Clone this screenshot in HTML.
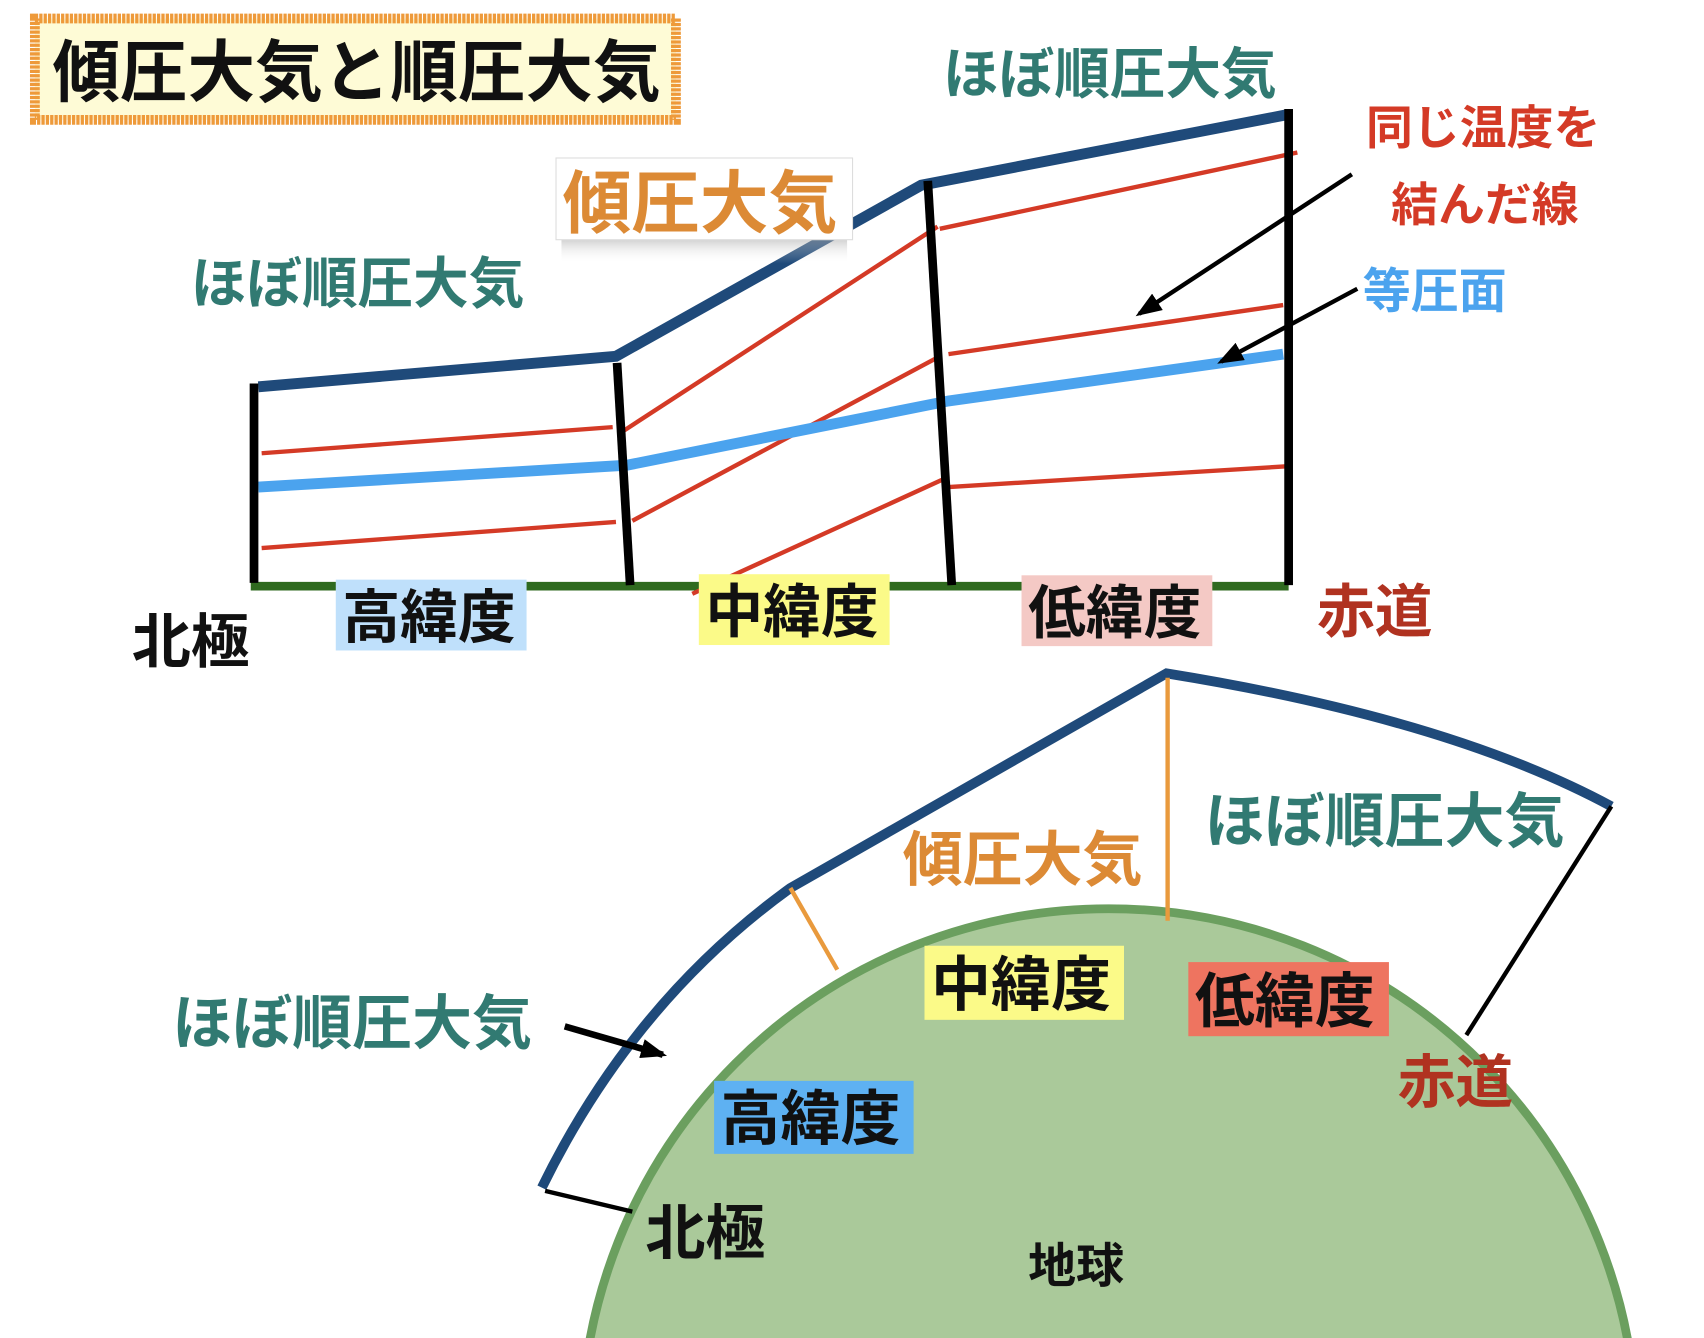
<!DOCTYPE html>
<html><head><meta charset="utf-8"><style>
html,body{margin:0;padding:0;background:#fff;overflow:hidden;width:1704px;height:1338px;}
svg{display:block}
text{font-family:"Liberation Sans","Noto Sans CJK JP",sans-serif;font-weight:bold;}
</style></head><body>
<svg width="1704" height="1338" viewBox="0 0 1563 1228" preserveAspectRatio="none" xmlns="http://www.w3.org/2000/svg">
<defs>
<marker id="ah" markerWidth="24" markerHeight="18" refX="20" refY="9" orient="auto" markerUnits="userSpaceOnUse">
<path d="M0,0 L24,9 L0,18 z" fill="#000"/></marker>
<linearGradient id="sh" x1="0" y1="0" x2="0" y2="1"><stop offset="0" stop-color="#888" stop-opacity="0.7"/><stop offset="1" stop-color="#fff" stop-opacity="0"/></linearGradient>
</defs>
<rect x="32" y="17" width="588" height="93" fill="#fefbd6" stroke="#ee9a3a" stroke-width="9" stroke-dasharray="3 1"/>
<text x="48" y="88" font-size="62" fill="#111">傾圧大気と順圧大気</text>

<line x1="230" y1="538" x2="1182" y2="538" stroke="#2f6a1f" stroke-width="8"/>
<g stroke="#d43a26" stroke-width="4">
<line x1="240" y1="416" x2="562" y2="392"/>
<line x1="240" y1="503" x2="565" y2="479"/>
<line x1="568" y1="398" x2="860" y2="208"/>
<line x1="580" y1="478" x2="862" y2="327"/>
<line x1="635" y1="545" x2="865" y2="440"/>
<line x1="862" y1="210" x2="1190" y2="140"/>
<line x1="870" y1="325" x2="1177" y2="280"/>
<line x1="870" y1="447" x2="1180" y2="428"/>
</g>
<polyline points="237,447 575,427 870,368 1177,325" fill="none" stroke="#4ba3ee" stroke-width="10"/>
<polyline points="237,355 565,327 845,170 1182,105" fill="none" stroke="#1f4a7a" stroke-width="10"/>
<g stroke="#000" stroke-width="8">
<line x1="233" y1="352" x2="233" y2="535"/>
<line x1="566" y1="333" x2="578" y2="537"/>
<line x1="851" y1="166" x2="873" y2="537"/>
<line x1="1182" y1="100" x2="1182" y2="537"/>
</g>
<line x1="1240" y1="160" x2="1045" y2="288" stroke="#000" stroke-width="4" marker-end="url(#ah)"/>
<line x1="1245" y1="265" x2="1120" y2="332" stroke="#000" stroke-width="4" marker-end="url(#ah)"/>

<rect x="515" y="212" width="262" height="30" fill="url(#sh)"/>
<rect x="510" y="145" width="272" height="75" fill="#fff" stroke="#ddd" stroke-width="1"/>
<text x="516" y="209" font-size="63" fill="#dc8a35">傾圧大気</text>
<text x="865" y="86" font-size="51" fill="#317a72">ほぼ順圧大気</text>
<text x="175" y="278" font-size="51" fill="#317a72">ほぼ順圧大気</text>
<text x="1253" y="132" font-size="43" fill="#d43a26">同じ温度を</text>
<text x="1276" y="203" font-size="43" fill="#d43a26">結んだ線</text>
<text x="1250" y="282" font-size="44" fill="#4ba3ee">等圧面</text>

<rect x="308" y="532" width="175" height="65" fill="#bfe0fb"/>
<text x="314" y="585" font-size="53" fill="#111">高緯度</text>
<rect x="641" y="527" width="175" height="65" fill="#fbfa88"/>
<text x="647" y="580" font-size="53" fill="#111">中緯度</text>
<rect x="937" y="528" width="175" height="65" fill="#f4c9c5"/>
<text x="943" y="581" font-size="53" fill="#111">低緯度</text>
<text x="1208" y="580" font-size="53" fill="#b03220">赤道</text>
<text x="121" y="608" font-size="54" fill="#111">北極</text>

<circle cx="1017" cy="1318" r="484" fill="#aac99a" stroke="#6b9f5f" stroke-width="8"/>
<path d="M497,1090 Q580,920 725,815 L1070,618 Q1330,660 1478,740" fill="none" stroke="#1f4a7a" stroke-width="9"/>
<line x1="1478" y1="740" x2="1345" y2="950" stroke="#000" stroke-width="4"/>
<line x1="500" y1="1093" x2="580" y2="1112" stroke="#000" stroke-width="4"/>
<line x1="725" y1="815" x2="768" y2="890" stroke="#e99a3d" stroke-width="4"/>
<line x1="1071" y1="622" x2="1071" y2="845" stroke="#e99a3d" stroke-width="4"/>
<line x1="518" y1="942" x2="608" y2="968" stroke="#000" stroke-width="6" marker-end="url(#ah)"/>

<text x="828" y="808" font-size="55" fill="#dc8a35">傾圧大気</text>
<text x="1105" y="773" font-size="55" fill="#317a72">ほぼ順圧大気</text>
<text x="158" y="958" font-size="55" fill="#317a72">ほぼ順圧大気</text>
<rect x="848" y="868" width="183" height="68" fill="#fbfa88"/>
<text x="854" y="923" font-size="55" fill="#111">中緯度</text>
<rect x="1090" y="883" width="184" height="68" fill="#ee7460"/>
<text x="1096" y="938" font-size="55" fill="#111">低緯度</text>
<rect x="655" y="992" width="183" height="67" fill="#5eb1f2"/>
<text x="661" y="1046" font-size="55" fill="#111">高緯度</text>
<text x="1282" y="1012" font-size="53" fill="#b03220">赤道</text>
<text x="592" y="1151" font-size="55" fill="#111">北極</text>
<text x="943" y="1177" font-size="44" fill="#111">地球</text>
</svg>
</body></html>
